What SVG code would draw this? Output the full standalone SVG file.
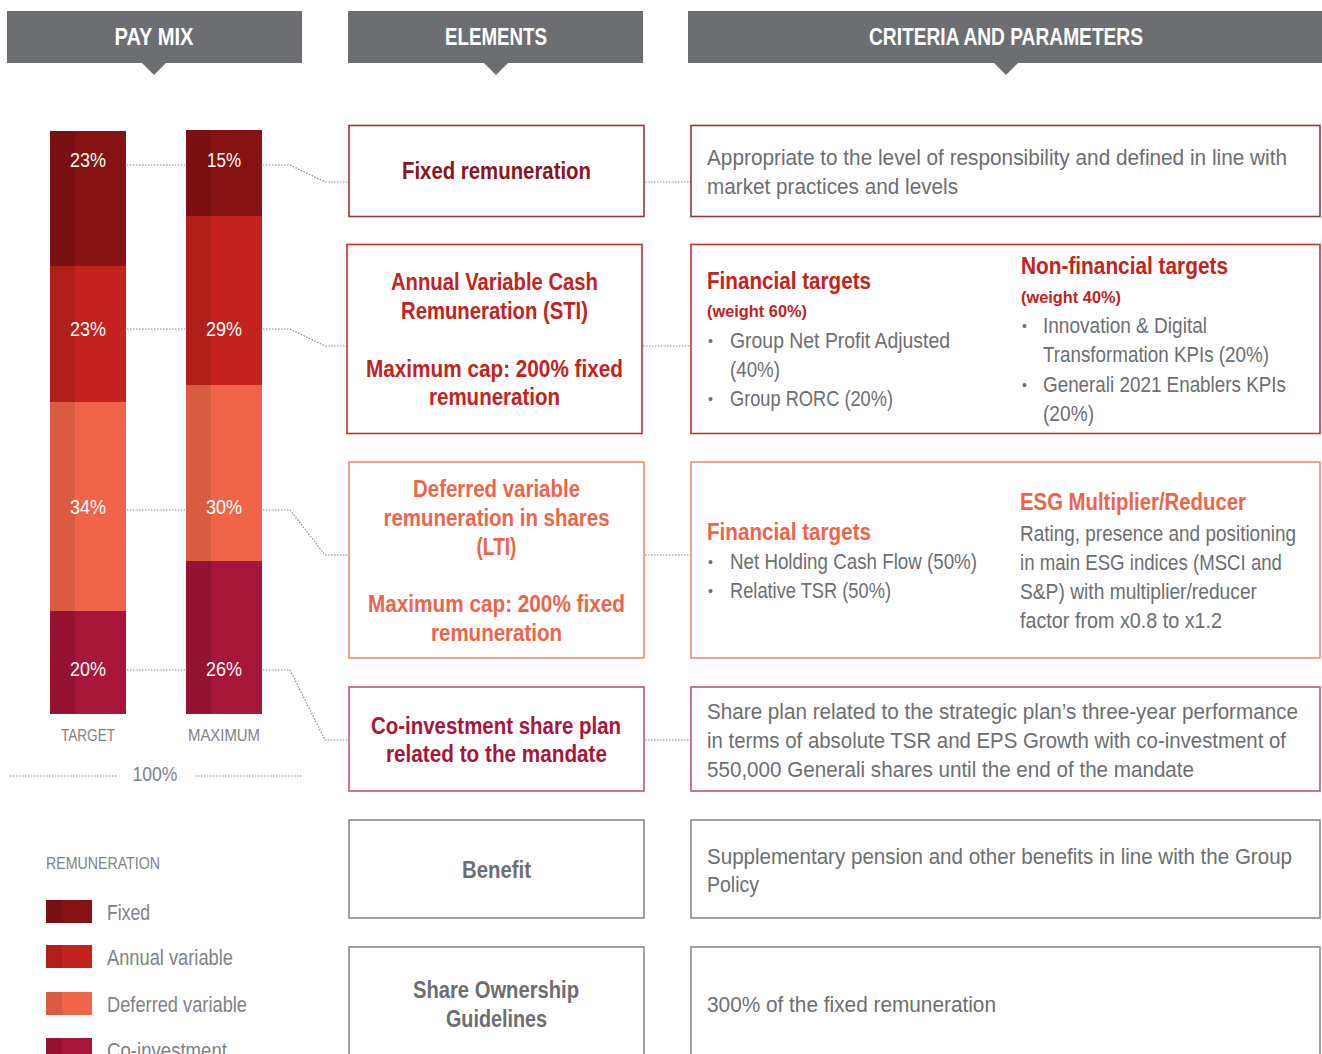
<svg xmlns="http://www.w3.org/2000/svg" width="1322" height="1054" viewBox="0 0 1322 1054">
<style>
text{font-family:"Liberation Sans",Arial,sans-serif}
.hd{fill:#fff;font-weight:bold;font-size:23px;text-anchor:middle}
.hbar{fill:#6d6e71}
.pct{fill:#fff;font-size:20px;text-anchor:middle}
.cap{fill:#808285;font-size:17px;text-anchor:middle}
.t{font-weight:bold;font-size:23px;text-anchor:middle}
.b{fill:#6d6e71;font-size:22px}
.bl{fill:#6d6e71;font-size:14px}
.box{fill:#fff;stroke-width:1.6}
.dot{fill:none;stroke:#8a8a8a;stroke-width:1.2;stroke-dasharray:1.5 1.5}
.lg{fill:#808285;font-size:22px}
</style>
<rect width="1322" height="1054" fill="#fff"/>
<!-- headers -->
<g id="hdr-paymix"><rect class="hbar" x="7" y="11" width="295" height="52"/><path class="hbar" d="M142 63 L166 63 L154 75 Z"/><text class="hd" x="154" y="45" textLength="79" lengthAdjust="spacingAndGlyphs">PAY MIX</text></g>
<g id="hdr-elements"><rect class="hbar" x="348" y="11" width="295" height="52"/><path class="hbar" d="M484 63 L508 63 L496 75 Z"/><text class="hd" x="496" y="45" textLength="102" lengthAdjust="spacingAndGlyphs">ELEMENTS</text></g>
<g id="hdr-criteria"><rect class="hbar" x="688" y="11" width="634" height="52"/><path class="hbar" d="M994 63 L1018 63 L1006 75 Z"/><text class="hd" x="1006" y="45" textLength="274" lengthAdjust="spacingAndGlyphs">CRITERIA AND PARAMETERS</text></g>
<!-- bars -->
<g id="bar-target">
<rect x="50" y="131" width="76" height="135" fill="#871214"/><rect x="50" y="131" width="25" height="135" fill="#7a1011"/>
<rect x="50" y="266" width="76" height="136" fill="#c4221c"/><rect x="50" y="266" width="25" height="136" fill="#b01e19"/>
<rect x="50" y="402" width="76" height="209" fill="#f0654a"/><rect x="50" y="402" width="25" height="209" fill="#db5a42"/>
<rect x="50" y="611" width="76" height="103" fill="#a71638"/><rect x="50" y="611" width="25" height="103" fill="#961232"/>
<text class="pct" x="88" y="167" textLength="36" lengthAdjust="spacingAndGlyphs">23%</text><text class="pct" x="88" y="336" textLength="36" lengthAdjust="spacingAndGlyphs">23%</text><text class="pct" x="88" y="514" textLength="36" lengthAdjust="spacingAndGlyphs">34%</text><text class="pct" x="88" y="676" textLength="36" lengthAdjust="spacingAndGlyphs">20%</text>
<text class="cap" x="88" y="741" textLength="54" lengthAdjust="spacingAndGlyphs">TARGET</text>
</g>
<g id="bar-maximum">
<rect x="186" y="130" width="76" height="86" fill="#871214"/><rect x="186" y="130" width="25" height="86" fill="#7a1011"/>
<rect x="186" y="216" width="76" height="169" fill="#c4221c"/><rect x="186" y="216" width="25" height="169" fill="#b01e19"/>
<rect x="186" y="385" width="76" height="176" fill="#f0654a"/><rect x="186" y="385" width="25" height="176" fill="#db5a42"/>
<rect x="186" y="561" width="76" height="153" fill="#a71638"/><rect x="186" y="561" width="25" height="153" fill="#961232"/>
<text class="pct" x="224" y="167" textLength="34" lengthAdjust="spacingAndGlyphs">15%</text><text class="pct" x="224" y="336" textLength="36" lengthAdjust="spacingAndGlyphs">29%</text><text class="pct" x="224" y="514" textLength="36" lengthAdjust="spacingAndGlyphs">30%</text><text class="pct" x="224" y="676" textLength="36" lengthAdjust="spacingAndGlyphs">26%</text>
<text class="cap" x="224" y="741" textLength="72" lengthAdjust="spacingAndGlyphs">MAXIMUM</text>
</g>
<g id="total">
<path class="dot" d="M10 776 H117 M195 776 H302"/>
<text x="155" y="781" fill="#808285" font-size="21" text-anchor="middle" textLength="45" lengthAdjust="spacingAndGlyphs">100%</text>
</g>
<!-- connectors -->
<g id="connectors">
<path class="dot" d="M127 165 H185 M263 165 H290 L325 182 H348 M645 182 H691"/>
<path class="dot" d="M127 329 H185 M263 329 H290 L325 346 H347 M643 346 H691"/>
<path class="dot" d="M127 510 H185 M263 510 H290 L325 555 H348 M645 555 H691"/>
<path class="dot" d="M127 670 H185 M263 670 H290 L325 740 H348 M645 740 H691"/>
</g>
<!-- element boxes -->
<g id="el-fixed"><rect class="box" x="349" y="125.5" width="295" height="91" stroke="#9e3336"/><text class="t" x="496.5" y="179" fill="#8b1419" textLength="189" lengthAdjust="spacingAndGlyphs">Fixed remuneration</text></g>
<g id="el-sti"><rect class="box" x="347" y="244.5" width="295" height="189" stroke="#c8302a"/>
<text class="t" x="494.5" y="290" fill="#c4221c" textLength="207" lengthAdjust="spacingAndGlyphs">Annual Variable Cash</text>
<text class="t" x="494.5" y="319" fill="#c4221c" textLength="187" lengthAdjust="spacingAndGlyphs">Remuneration (STI)</text>
<text class="t" x="494.5" y="377" fill="#c4221c" textLength="257" lengthAdjust="spacingAndGlyphs">Maximum cap: 200% fixed</text>
<text class="t" x="494.5" y="405" fill="#c4221c" textLength="131" lengthAdjust="spacingAndGlyphs">remuneration</text></g>
<g id="el-lti"><rect class="box" x="349" y="462" width="295" height="196" stroke="#f28a74"/>
<text class="t" x="496.5" y="497" fill="#ef6448" textLength="167" lengthAdjust="spacingAndGlyphs">Deferred variable</text>
<text class="t" x="496.5" y="526" fill="#ef6448" textLength="226" lengthAdjust="spacingAndGlyphs">remuneration in shares</text>
<text class="t" x="496.5" y="555" fill="#ef6448" textLength="40" lengthAdjust="spacingAndGlyphs">(LTI)</text>
<text class="t" x="496.5" y="612" fill="#ef6448" textLength="257" lengthAdjust="spacingAndGlyphs">Maximum cap: 200% fixed</text>
<text class="t" x="496.5" y="641" fill="#ef6448" textLength="131" lengthAdjust="spacingAndGlyphs">remuneration</text></g>
<g id="el-coinv"><rect class="box" x="349" y="687" width="295" height="104" stroke="#c05675"/>
<text class="t" x="496" y="734" fill="#a71638" textLength="250" lengthAdjust="spacingAndGlyphs">Co-investment share plan</text>
<text class="t" x="496.5" y="762" fill="#a71638" textLength="221" lengthAdjust="spacingAndGlyphs">related to the mandate</text></g>
<g id="el-benefit"><rect class="box" x="349" y="820" width="295" height="98" stroke="#8a8a8d"/>
<text class="t" x="496.5" y="878" fill="#6d6e71" textLength="69" lengthAdjust="spacingAndGlyphs">Benefit</text></g>
<g id="el-sog"><rect class="box" x="349" y="947" width="295" height="120" stroke="#8a8a8d"/>
<text class="t" x="496" y="998" fill="#6d6e71" textLength="166" lengthAdjust="spacingAndGlyphs">Share Ownership</text>
<text class="t" x="496.5" y="1027" fill="#6d6e71" textLength="101" lengthAdjust="spacingAndGlyphs">Guidelines</text></g>
<!-- criteria boxes -->
<g id="cr-fixed"><rect class="box" x="691" y="125.5" width="629" height="91" stroke="#9e3336"/>
<text class="b" transform="translate(707 165) scale(0.88 1)" textLength="659.1" lengthAdjust="spacingAndGlyphs">Appropriate to the level of responsibility and defined in line with</text>
<text class="b" x="707" y="194" textLength="251" lengthAdjust="spacingAndGlyphs">market practices and levels</text></g>
<g id="cr-sti"><rect class="box" x="691" y="244.5" width="629" height="189" stroke="#c8302a"/>
<text x="707" y="289" fill="#c4221c" font-weight="bold" font-size="23" textLength="164" lengthAdjust="spacingAndGlyphs">Financial targets</text>
<text x="707" y="317" fill="#c4221c" font-weight="bold" font-size="17" textLength="100" lengthAdjust="spacingAndGlyphs">(weight 60%)</text>
<text class="bl" x="708" y="346">•</text><text class="b" x="730" y="348" textLength="220" lengthAdjust="spacingAndGlyphs">Group Net Profit  Adjusted</text>
<text class="b" x="730" y="377" textLength="50" lengthAdjust="spacingAndGlyphs">(40%)</text>
<text class="bl" x="708" y="404">•</text><text class="b" x="730" y="406" textLength="163" lengthAdjust="spacingAndGlyphs">Group RORC (20%)</text>
<text x="1021" y="274" fill="#c4221c" font-weight="bold" font-size="23" textLength="207" lengthAdjust="spacingAndGlyphs">Non-financial targets</text>
<text x="1021" y="303" fill="#c4221c" font-weight="bold" font-size="17" textLength="100" lengthAdjust="spacingAndGlyphs">(weight 40%)</text>
<text class="bl" x="1022" y="331">•</text><text class="b" x="1043" y="333" textLength="164" lengthAdjust="spacingAndGlyphs">Innovation &amp; Digital</text>
<text class="b" x="1043" y="362" textLength="226" lengthAdjust="spacingAndGlyphs">Transformation KPIs (20%)</text>
<text class="bl" x="1022" y="390">•</text><text class="b" transform="translate(1043 392) scale(0.88 1)" textLength="276.1" lengthAdjust="spacingAndGlyphs">Generali 2021 Enablers KPIs</text>
<text class="b" x="1043" y="421" textLength="51" lengthAdjust="spacingAndGlyphs">(20%)</text></g>
<g id="cr-lti"><rect class="box" x="691" y="462" width="629" height="196" stroke="#f28a74"/>
<text x="707" y="540" fill="#ef6448" font-weight="bold" font-size="23" textLength="164" lengthAdjust="spacingAndGlyphs">Financial targets</text>
<text class="bl" x="708" y="567">•</text><text class="b" x="730" y="569" textLength="247" lengthAdjust="spacingAndGlyphs">Net Holding Cash Flow (50%)</text>
<text class="bl" x="708" y="596">•</text><text class="b" x="730" y="598" textLength="161" lengthAdjust="spacingAndGlyphs">Relative TSR (50%)</text>
<text x="1020" y="510" fill="#ef6448" font-weight="bold" font-size="23" textLength="226" lengthAdjust="spacingAndGlyphs">ESG Multiplier/Reducer</text>
<text class="b" transform="translate(1020 541) scale(0.88 1)" textLength="313.6" lengthAdjust="spacingAndGlyphs">Rating, presence and positioning</text>
<text class="b" transform="translate(1020 570) scale(0.88 1)" textLength="297.7" lengthAdjust="spacingAndGlyphs">in main ESG indices (MSCI and</text>
<text class="b" transform="translate(1020 599) scale(0.88 1)" textLength="269.3" lengthAdjust="spacingAndGlyphs">S&amp;P) with multiplier/reducer</text>
<text class="b" x="1020" y="628" textLength="202" lengthAdjust="spacingAndGlyphs">factor from x0.8 to x1.2</text></g>
<g id="cr-coinv"><rect class="box" x="691" y="687" width="629" height="104" stroke="#c05675"/>
<text class="b" transform="translate(707 719) scale(0.88 1)" textLength="671.6" lengthAdjust="spacingAndGlyphs">Share plan related to the strategic plan’s three-year performance</text>
<text class="b" transform="translate(707 748) scale(0.88 1)" textLength="658" lengthAdjust="spacingAndGlyphs">in terms of absolute TSR and EPS Growth with co-investment of</text>
<text class="b" x="707" y="777" textLength="487" lengthAdjust="spacingAndGlyphs">550,000 Generali shares until the end of the mandate</text></g>
<g id="cr-benefit"><rect class="box" x="691" y="820" width="629" height="98" stroke="#8a8a8d"/>
<text class="b" transform="translate(707 864) scale(0.88 1)" textLength="664.8" lengthAdjust="spacingAndGlyphs">Supplementary pension and other benefits in line with the Group</text>
<text class="b" x="707" y="892" textLength="52" lengthAdjust="spacingAndGlyphs">Policy</text></g>
<g id="cr-sog"><rect class="box" x="691" y="947" width="629" height="120" stroke="#8a8a8d"/>
<text class="b" x="707" y="1012" textLength="289" lengthAdjust="spacingAndGlyphs">300% of the fixed remuneration</text></g>
<!-- legend -->
<g id="legend">
<text x="46" y="869" fill="#808285" font-size="17" textLength="114" lengthAdjust="spacingAndGlyphs">REMUNERATION</text>
<rect x="46" y="900" width="46" height="23" fill="#871214"/><rect x="46" y="900" width="16" height="23" fill="#7a1011"/>
<text class="lg" x="107" y="920" textLength="43" lengthAdjust="spacingAndGlyphs">Fixed</text>
<rect x="46" y="945" width="46" height="23" fill="#c4221c"/><rect x="46" y="945" width="16" height="23" fill="#b01e19"/>
<text class="lg" x="107" y="965" textLength="126" lengthAdjust="spacingAndGlyphs">Annual variable</text>
<rect x="46" y="992" width="46" height="23" fill="#f0654a"/><rect x="46" y="992" width="16" height="23" fill="#db5a42"/>
<text class="lg" x="107" y="1012" textLength="140" lengthAdjust="spacingAndGlyphs">Deferred variable</text>
<rect x="46" y="1038" width="46" height="23" fill="#a71638"/><rect x="46" y="1038" width="16" height="23" fill="#961232"/>
<text class="lg" x="107" y="1058" textLength="120" lengthAdjust="spacingAndGlyphs">Co-investment</text>
</g>
</svg>
